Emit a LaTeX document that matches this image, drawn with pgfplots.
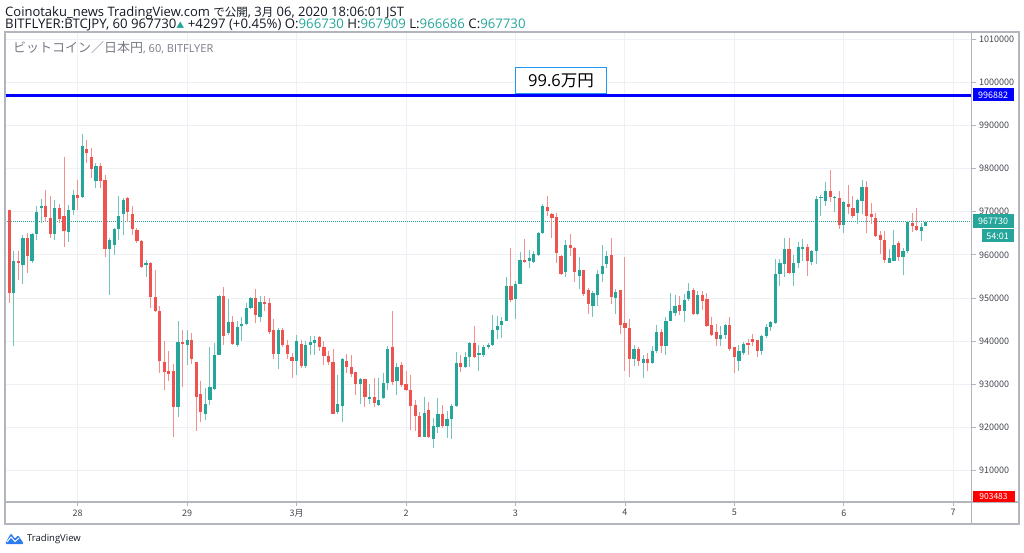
\documentclass[border=0pt]{standalone}
\usepackage{pgfplots}
\pgfplotsset{compat=1.18}
\usepackage{pgfplotstable}
\usepackage{fontspec}
\setmainfont{Open Sans}
\newfontfamily\jp{Noto Sans CJK JP}
\definecolor{tvgreen}{HTML}{26A69A}
\definecolor{tvred}{HTML}{EF5350}
\definecolor{tvgrid}{HTML}{EDF0F5}
\definecolor{tvframe}{HTML}{B2B5BE}
\definecolor{tvtext}{HTML}{131722}
\definecolor{tvgrey}{HTML}{787B86}
\definecolor{tvblue}{HTML}{2196F3}
\definecolor{tvlogo}{HTML}{2E7BEF}

% hourly candles, prices in thousands of JPY
\pgfplotstableread{
i o h l c
1 951.2 960.8 938.8 958.5
3 957.7 964.6 953.2 963.8
5 958.6 965.0 958.1 964.8
6 964.8 971.2 963.5 970.0
7 970.9 972.9 967.3 971.3
10 964.8 972.7 963.5 970.8
13 965.4 971.5 962.9 970.5
14 970.5 975.0 969.2 973.8
16 973.5 987.9 973.1 985.2
19 977.1 981.2 975.5 980.6
22 961.4 963.8 950.6 963.5
23 962.3 966.2 960.0 966.0
24 966.0 973.7 963.5 969.1
25 969.4 973.1 964.5 972.7
30 957.7 958.8 954.8 958.1
37 924.8 944.6 922.5 939.8
39 939.2 942.7 934.6 940.4
43 923.1 929.2 921.7 925.5
44 926.3 938.6 925.2 929.4
45 929.0 939.6 928.8 936.8
46 936.8 950.8 936.8 950.4
48 941.9 949.8 941.4 944.5
50 939.2 944.6 938.6 943.2
51 943.6 945.5 940.0 944.0
52 944.0 948.8 943.8 947.8
53 947.8 950.2 947.5 950.0
55 945.5 950.4 944.5 949.1
59 937.0 943.1 933.5 942.7
63 935.5 941.5 932.2 940.0
65 934.2 940.0 933.8 939.2
66 939.2 941.2 936.9 939.8
67 939.6 941.2 936.9 940.2
72 923.5 932.2 923.1 925.4
73 925.0 936.2 921.4 935.9
77 930.0 931.5 925.4 931.2
79 926.8 930.0 925.4 927.1
81 925.2 931.4 925.0 926.5
82 926.9 932.7 926.5 930.4
83 930.4 938.8 928.8 938.1
85 930.8 935.0 927.5 934.1
91 917.8 927.1 917.7 923.4
93 917.3 922.3 915.2 920.4
94 920.2 926.9 918.8 923.2
96 920.4 923.8 917.5 921.9
97 921.9 925.5 917.3 925.0
98 925.0 937.5 924.8 935.0
100 934.0 937.5 933.8 936.3
101 936.3 939.8 934.0 939.6
103 936.8 939.1 933.2 937.2
104 936.9 939.1 936.3 938.6
105 938.6 939.6 938.1 939.2
106 939.1 946.0 938.8 942.5
107 942.5 945.8 940.4 943.6
108 943.8 945.5 940.8 944.8
109 944.8 954.8 944.6 952.8
111 949.8 954.0 945.2 953.3
112 953.3 960.6 953.2 958.8
114 958.5 961.2 956.9 959.2
115 958.3 960.8 958.1 960.2
116 960.0 965.2 959.8 965.0
117 965.0 971.9 964.8 971.2
122 956.0 963.5 954.8 962.2
125 955.0 959.4 952.2 956.4
128 948.1 951.7 945.5 951.2
129 950.8 956.5 948.1 955.6
130 955.6 962.3 953.8 957.5
131 957.8 960.9 956.9 959.8
133 950.0 952.2 946.2 951.5
137 935.8 939.2 934.2 938.3
139 935.0 936.9 931.4 936.0
141 935.0 938.8 934.8 937.7
142 937.7 943.7 937.3 942.2
144 938.8 945.5 936.8 944.8
145 944.8 951.2 944.6 947.1
146 946.5 950.6 945.8 948.1
148 947.1 950.9 944.5 949.5
149 949.8 953.5 949.4 951.7
151 946.3 951.7 946.0 950.8
156 940.4 943.5 938.8 941.5
157 941.4 944.0 940.4 943.7
160 935.5 939.1 933.1 937.8
161 937.3 939.8 936.9 939.4
165 937.7 941.4 936.9 941.2
166 941.2 944.0 940.8 943.2
167 943.2 944.8 942.3 944.5
168 944.2 959.1 944.0 955.6
169 955.6 959.1 952.7 958.1
170 957.8 963.8 954.8 961.3
172 955.9 960.0 952.9 958.2
173 958.1 962.9 956.9 961.8
174 961.5 963.6 958.5 961.9
176 958.3 961.2 957.7 960.9
177 960.8 973.6 957.8 972.9
178 973.1 973.8 969.1 973.5
179 972.5 976.9 971.4 974.9
181 973.1 973.7 970.0 973.5
183 966.9 972.5 965.0 972.2
186 969.6 972.9 967.1 972.7
187 972.5 977.3 969.4 975.8
193 958.2 961.4 958.1 959.2
194 958.5 965.8 958.5 962.3
196 959.6 961.5 955.4 960.9
197 960.8 967.8 960.4 967.7
200 965.5 967.3 963.1 966.5
201 966.73 967.909 966.686 967.73
}\up

\pgfplotstableread{
i o h l c
0 970.4 970.5 948.8 951.2
2 958.6 960.8 954.2 958.3
4 963.8 965.0 955.8 959.8
8 971.3 975.0 967.7 968.8
9 968.5 973.6 963.8 964.8
11 970.8 971.9 967.3 968.3
12 969.1 982.7 961.9 965.5
15 973.8 977.3 970.4 973.1
17 984.6 986.5 981.2 983.5
18 982.7 984.8 977.8 980.0
20 980.6 981.2 975.5 977.1
21 977.3 978.6 959.4 961.4
26 973.1 973.5 967.7 970.0
27 969.4 971.2 964.6 966.0
28 965.8 966.2 962.7 963.1
29 963.3 963.5 956.9 957.1
31 958.1 958.3 947.8 950.2
32 950.2 956.5 946.8 946.9
33 947.1 948.1 932.7 935.4
34 935.2 940.0 928.8 932.9
35 933.2 937.8 930.8 932.5
36 933.2 934.8 917.8 924.8
38 939.8 942.7 929.4 939.4
40 940.4 941.9 934.8 935.9
41 935.2 935.2 919.1 927.1
42 927.8 930.8 921.2 923.7
47 950.5 952.5 939.2 941.3
49 944.5 945.8 939.1 939.4
54 950.0 952.2 944.2 946.0
56 949.1 950.4 946.9 948.8
57 948.8 950.0 941.7 942.2
58 942.7 945.2 935.8 937.1
60 942.5 943.1 938.6 939.1
61 939.1 940.2 935.8 937.1
62 936.3 937.3 931.5 935.4
64 939.4 940.4 933.8 934.2
68 940.9 941.2 937.7 938.6
69 938.6 940.0 934.6 936.5
70 936.5 937.7 934.5 935.2
71 935.2 938.3 923.1 923.2
74 935.5 937.1 932.7 934.0
75 934.0 936.9 931.7 932.3
76 932.9 932.9 927.5 930.0
78 931.2 931.2 924.8 927.1
80 927.1 931.5 924.8 925.8
84 938.6 947.1 929.8 930.6
86 934.5 935.2 929.4 929.8
87 930.2 933.2 928.5 928.8
88 928.8 932.2 919.4 925.0
89 925.2 926.3 919.1 922.7
90 922.7 923.5 917.7 917.8
92 924.0 926.0 917.5 917.8
95 923.2 925.2 919.8 920.4
99 935.0 936.8 932.9 934.0
102 939.5 943.5 936.2 936.3
110 952.8 961.5 949.1 949.6
113 958.8 963.6 958.1 958.5
118 971.2 973.6 969.1 970.2
119 969.5 969.8 963.8 968.6
120 968.8 969.8 958.1 960.5
121 959.8 960.0 955.4 955.5
123 962.2 964.8 959.8 961.5
124 961.7 961.9 953.8 956.0
126 956.4 956.5 950.4 950.9
127 951.9 952.3 946.2 948.5
132 960.0 963.8 948.5 950.2
134 951.8 951.8 941.7 943.7
135 944.2 959.6 933.1 943.1
136 943.1 945.2 931.7 935.8
138 938.1 938.6 934.2 935.5
140 936.0 937.3 933.2 935.0
143 942.2 942.9 937.3 938.8
147 948.3 950.4 946.0 947.1
150 951.9 952.3 946.0 946.3
152 950.8 951.7 947.3 949.4
153 949.8 951.2 943.2 943.5
154 943.8 945.5 941.2 941.4
155 942.2 944.0 938.8 940.4
158 943.7 945.5 937.8 938.1
159 938.6 938.6 932.7 936.3
162 939.6 940.4 936.8 939.1
163 940.4 941.7 938.8 939.8
164 940.2 940.4 936.3 937.7
171 961.3 964.0 955.5 955.8
175 961.8 962.5 955.0 958.6
180 974.9 979.6 972.2 973.5
182 973.2 974.8 966.0 966.9
184 971.9 976.2 969.4 971.2
185 970.9 973.6 968.6 969.1
188 975.8 977.1 965.0 969.1
189 969.4 971.9 967.1 968.8
190 968.5 969.6 964.2 964.4
191 964.5 965.5 960.2 963.5
192 963.5 965.5 958.1 958.8
195 962.7 963.1 958.5 959.6
198 967.5 969.8 965.4 966.7
199 966.7 970.9 965.5 965.8
}\down

\begin{document}
\begin{tikzpicture}[x=1pt,y=1pt]
\useasboundingbox (0,0) rectangle (1024,552);
% header
\node[anchor=base west, inner sep=0, font=\fontsize{13}{14}\selectfont, text=tvtext] at (5,535)
  {Coinotaku\_news TradingView.com {\jp\fontsize{11.5}{14}\selectfont で公開}, 3{\jp\fontsize{11.5}{14}\selectfont 月} 06, 2020 18:06:01 JST};
\node[anchor=base west, inner sep=0, font=\fontsize{13.2}{14}\selectfont, text=tvtext] at (5,523.5)
  {BITFLYER:BTCJPY, 60 967730{\color{tvgreen}\jp\fontsize{8}{8}\selectfont ▲} +4297 (+0.45\%) O:\textcolor{tvgreen}{966730} H:\textcolor{tvgreen}{967909} L:\textcolor{tvgreen}{966686} C:\textcolor{tvgreen}{967730}};

\begin{axis}[
  at={(5pt,50pt)}, anchor=south west,
  scale only axis, width=966.7pt, height=470pt,
  xmin=-0.94, xmax=211.05, ymin=902.75, ymax=1011.62,
  axis line style={tvframe, line width=1pt},
  xtick={15,39,63,87,111,135,159,183,207},
  xticklabels={28,29,3月,2,3,4,5,6,7},
  ytick={910,920,930,940,950,960,970,980,990,1000,1010},
  yticklabels={910000,920000,930000,940000,950000,960000,970000,980000,990000,1000000,1010000},
  ytick pos=right, yticklabel pos=right, xtick pos=bottom,
  tick align=outside, major tick length=4pt,
  tick style={tvframe, line width=0.8pt},
  grid=major, major grid style={tvgrid, line width=0.9pt},
  ticklabel style={font=\jp\fontsize{9}{10}\selectfont, text=tvtext!80},
  /pgf/number format/assume math mode=true,
  clip=true,
]
% last price dotted line
\addplot[tvgreen, dash pattern=on 1pt off 1pt, line width=0.9pt, forget plot] coordinates {(-0.94,967.73) (211.05,967.73)};
% wicks
\addplot[only marks, mark size=0pt, mark options={draw=none, fill=none}, forget plot,
  error bars/.cd, y dir=both, y explicit, error mark=none,
  error bar style={draw=tvgreen!65, line width=1pt}]
  table[x=i, y expr=(\thisrow{h}+\thisrow{l})/2, y error expr=(\thisrow{h}-\thisrow{l})/2] {\up};
\addplot[only marks, mark size=0pt, mark options={draw=none, fill=none}, forget plot,
  error bars/.cd, y dir=both, y explicit, error mark=none,
  error bar style={draw=tvred!65, line width=1pt}]
  table[x=i, y expr=(\thisrow{h}+\thisrow{l})/2, y error expr=(\thisrow{h}-\thisrow{l})/2] {\down};
% bodies
\addplot[only marks, mark size=0pt, mark options={draw=none, fill=none}, forget plot,
  error bars/.cd, y dir=both, y explicit, error mark=none,
  error bar style={draw=tvgreen, line width=3.2pt}]
  table[x=i, y expr=(\thisrow{o}+\thisrow{c})/2, y error expr={max(abs(\thisrow{c}-\thisrow{o})/2,0.13)}] {\up};
\addplot[only marks, mark size=0pt, mark options={draw=none, fill=none}, forget plot,
  error bars/.cd, y dir=both, y explicit, error mark=none,
  error bar style={draw=tvred, line width=3.2pt}]
  table[x=i, y expr=(\thisrow{o}+\thisrow{c})/2, y error expr={max(abs(\thisrow{c}-\thisrow{o})/2,0.13)}] {\down};
% horizontal level line
\addplot[color=blue, line width=3pt, forget plot] coordinates {(-0.94,996.882) (211.05,996.882)};
\end{axis}

% outer frame and separators
\draw[tvframe, line width=1.2pt] (5,28) rectangle (1019,520);
\draw[tvframe, line width=1.2pt] (971.7,28) -- (971.7,520);
\draw[tvframe, line width=1.2pt] (5,50) -- (1019,50);

% chart title
\node[anchor=base west, inner sep=0, font=\fontsize{11}{13}\selectfont, text=tvgrey] at (13,499.7)
  {{\jp\fontsize{13}{14}\selectfont ビットコイン／日本円}, 60, BITFLYER};

% level label
\node[draw=tvblue, fill=white, line width=1pt, minimum width=91pt, minimum height=26pt, inner sep=0,
  font=\fontsize{16.5}{18}\selectfont, text=black] at (561,471) {99.6{\jp 万円}};

% price-scale labels
\node[fill=blue, text=white, minimum width=41pt, minimum height=13pt, inner sep=0, anchor=west,
  font=\jp\fontsize{9}{10}\selectfont] at (972.3,457) {996882};
\node[fill=tvgreen, text=white, minimum width=41pt, minimum height=14pt, inner sep=0, anchor=west,
  font=\jp\fontsize{9}{10}\selectfont] at (972.3,330.5) {967730};
\node[fill=tvgreen, text=white, minimum width=32pt, minimum height=13pt, inner sep=0, anchor=west,
  font=\jp\fontsize{9}{10}\selectfont] at (981.3,316) {54:01};
\node[fill=red, text=white, minimum width=42pt, minimum height=11pt, inner sep=0, anchor=west,
  font=\jp\fontsize{8.5}{10}\selectfont] at (972.3,55.6) {903483};

% TradingView logo
\fill[tvlogo, rounded corners=1.5pt] (5,8) -- (11,19) -- (15,13) -- (18,17) -- (24,8) -- cycle;
\draw[white, line width=1pt] (7,10) -- (11,15) -- (15,10.5) -- (19,14);
\node[anchor=base west, inner sep=0, font=\fontsize{9.5}{10}\selectfont, text=tvtext] at (27,10.5) {TradingView};
\end{tikzpicture}
\end{document}
